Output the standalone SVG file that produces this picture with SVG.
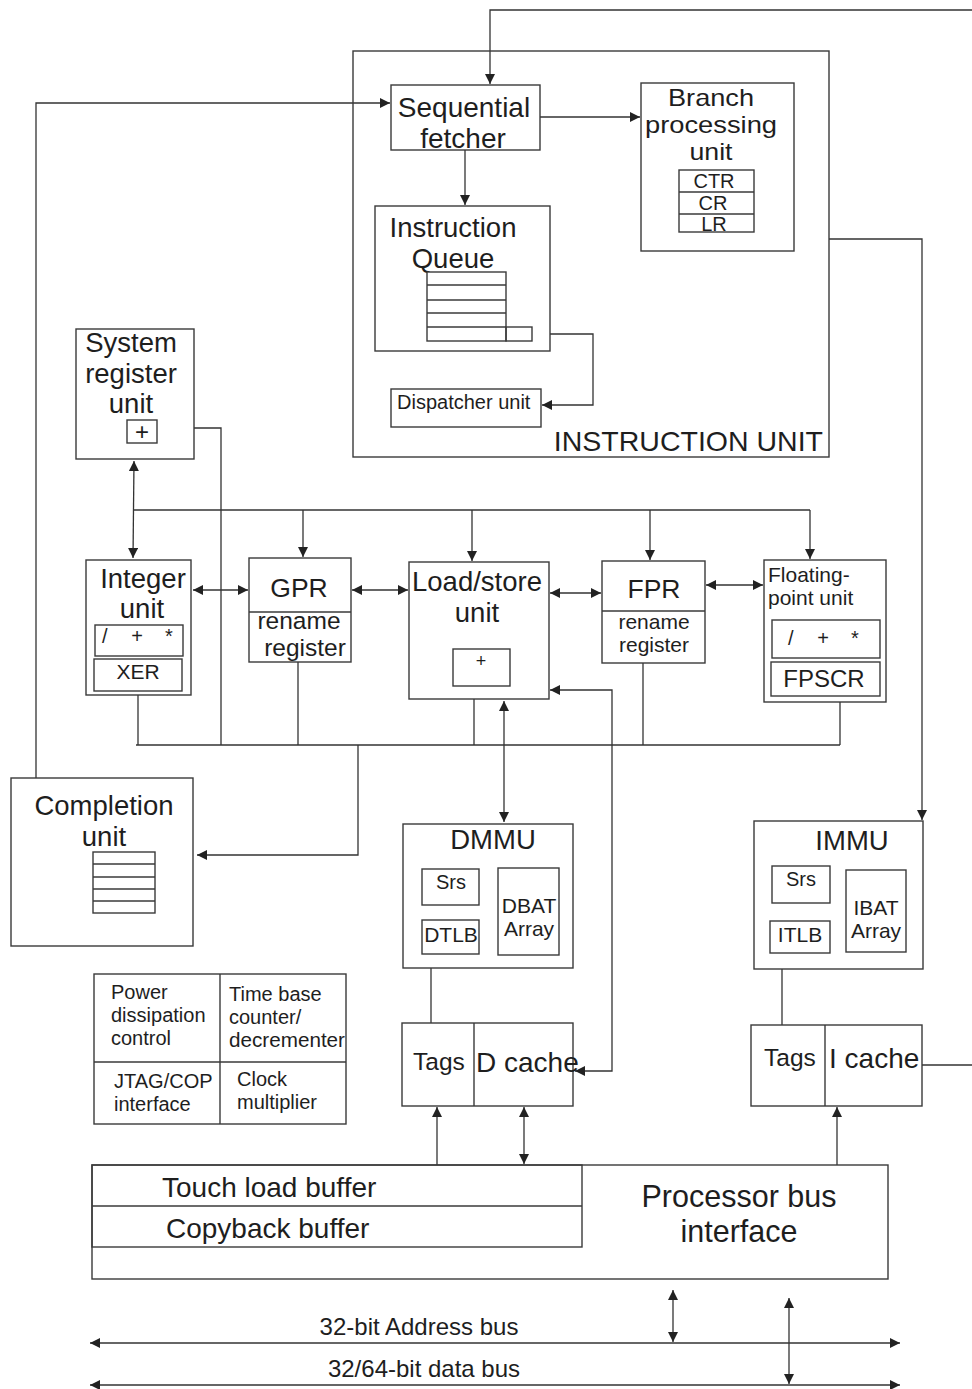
<svg xmlns="http://www.w3.org/2000/svg" width="972" height="1389" viewBox="0 0 972 1389">
  <style>
    .b { fill: none; stroke: #3a3a3a; stroke-width: 1.4; }
    .w { fill: #fff; stroke: #3a3a3a; stroke-width: 1.4; }
    .c { fill: none; stroke: #333; stroke-width: 1.3; }
    text { font-family: "Liberation Sans", Arial, sans-serif; fill: #1e1e1e; }
    .m { text-anchor: middle; }
    .t28 { font-size: 28px; }
    .t27 { font-size: 27.5px; }
    .t24 { font-size: 24.5px; }
    .t21 { font-size: 21px; }
    .t20 { font-size: 20px; }
  </style>
  <defs>
    <marker id="ah" viewBox="0 0 10 10" refX="10" refY="5" markerWidth="12" markerHeight="10" markerUnits="userSpaceOnUse" orient="auto-start-reverse">
      <path d="M0,0 L10,5 L0,10 z" fill="#222"/>
    </marker>
  </defs>

  <rect width="972" height="1389" fill="#fff"/>

  <!-- connectors -->
  <g id="connectors">
    <!-- external feed into the sequential fetcher -->
    <polyline class="c" points="972,10 490,10 490,84" marker-end="url(#ah)"/>
    <!-- completion unit back to fetcher -->
    <polyline class="c" points="36,778 36,103 390,103" marker-end="url(#ah)"/>
    <line class="c" x1="540" y1="117" x2="640" y2="117" marker-end="url(#ah)"/>
    <line class="c" x1="465" y1="150" x2="465" y2="205" marker-end="url(#ah)"/>
    <polyline class="c" points="532,334 593,334 593,405 542,405" marker-end="url(#ah)"/>
    <!-- instruction unit to IMMU -->
    <polyline class="c" points="829,239 922,239 922,820" marker-end="url(#ah)"/>

    <!-- dispatch bus -->
    <line class="c" x1="134" y1="461" x2="133" y2="558" marker-start="url(#ah)" marker-end="url(#ah)"/>
    <line class="c" x1="134" y1="510" x2="810" y2="510"/>
    <line class="c" x1="303" y1="510" x2="303" y2="557" marker-end="url(#ah)"/>
    <line class="c" x1="472" y1="510" x2="472" y2="561" marker-end="url(#ah)"/>
    <line class="c" x1="650" y1="510" x2="650" y2="560" marker-end="url(#ah)"/>
    <line class="c" x1="810" y1="510" x2="810" y2="559" marker-end="url(#ah)"/>

    <!-- unit to unit -->
    <line class="c" x1="193" y1="590" x2="248" y2="590" marker-start="url(#ah)" marker-end="url(#ah)"/>
    <line class="c" x1="352" y1="590" x2="408" y2="590" marker-start="url(#ah)" marker-end="url(#ah)"/>
    <line class="c" x1="550" y1="593" x2="601" y2="593" marker-start="url(#ah)" marker-end="url(#ah)"/>
    <line class="c" x1="706" y1="585" x2="763" y2="585" marker-start="url(#ah)" marker-end="url(#ah)"/>

    <!-- completion bus -->
    <polyline class="c" points="194,428 221,428 221,745"/>
    <line class="c" x1="136" y1="745" x2="840" y2="745"/>
    <line class="c" x1="138" y1="695" x2="138" y2="745"/>
    <line class="c" x1="298" y1="662" x2="298" y2="745"/>
    <line class="c" x1="474" y1="699" x2="474" y2="745"/>
    <line class="c" x1="643" y1="663" x2="643" y2="745"/>
    <line class="c" x1="840" y1="702" x2="840" y2="745"/>
    <polyline class="c" points="358,745 358,855 197,855" marker-end="url(#ah)"/>

    <!-- load/store to DMMU and D cache -->
    <line class="c" x1="504" y1="701" x2="504" y2="822" marker-start="url(#ah)" marker-end="url(#ah)"/>
    <polyline class="c" points="575,1071 612,1071 612,690 550,690" marker-start="url(#ah)" marker-end="url(#ah)"/>
    <line class="c" x1="431" y1="968" x2="431" y2="1023"/>
    <line class="c" x1="437" y1="1165" x2="437" y2="1107" marker-end="url(#ah)"/>
    <line class="c" x1="524" y1="1107" x2="524" y2="1164" marker-start="url(#ah)" marker-end="url(#ah)"/>

    <!-- IMMU and I cache -->
    <line class="c" x1="782" y1="969" x2="782" y2="1025"/>
    <line class="c" x1="922" y1="1065" x2="972" y2="1065"/>
    <line class="c" x1="837" y1="1165" x2="837" y2="1107" marker-end="url(#ah)"/>

    <!-- system buses -->
    <line class="c" x1="673" y1="1290" x2="673" y2="1342" marker-start="url(#ah)" marker-end="url(#ah)"/>
    <line class="c" x1="789" y1="1298" x2="789" y2="1384" marker-start="url(#ah)" marker-end="url(#ah)"/>
    <line class="c" x1="90" y1="1343" x2="900" y2="1343" marker-start="url(#ah)" marker-end="url(#ah)"/>
    <line class="c" x1="90" y1="1385" x2="900" y2="1385" marker-start="url(#ah)" marker-end="url(#ah)"/>
  </g>

  <!-- instruction unit -->
  <g id="instruction-unit">
    <rect class="b" x="353" y="51" width="476" height="406"/>
    <text x="823" y="451" text-anchor="end" font-size="28.5">INSTRUCTION UNIT</text>
  </g>

  <g id="sequential-fetcher">
    <rect class="w" x="391" y="85" width="149" height="65"/>
    <text class="t28 m" x="464" y="117">Sequential</text>
    <text class="t28 m" x="463" y="148">fetcher</text>
  </g>

  <g id="branch-unit">
    <rect class="w" x="641" y="83" width="153" height="168"/>
    <!-- tight line pitch: slightly wide glyphs at a smaller size -->
    <text class="m" x="711" y="106" font-size="24" textLength="86" lengthAdjust="spacingAndGlyphs">Branch</text>
    <text class="m" x="711" y="133" font-size="24" textLength="132" lengthAdjust="spacingAndGlyphs">processing</text>
    <text class="m" x="711" y="160" font-size="24" textLength="43" lengthAdjust="spacingAndGlyphs">unit</text>
    <rect class="b" x="679" y="170" width="75" height="62"/>
    <line class="b" x1="679" y1="192" x2="754" y2="192"/>
    <line class="b" x1="679" y1="214" x2="754" y2="214"/>
    <text class="t20 m" x="714" y="188">CTR</text>
    <text class="t20 m" x="713" y="210">CR</text>
    <text class="t20 m" x="714" y="231">LR</text>
  </g>

  <g id="instruction-queue">
    <rect class="w" x="375" y="206" width="175" height="145"/>
    <text class="t27 m" x="453" y="237">Instruction</text>
    <text class="t27 m" x="453" y="268">Queue</text>
    <rect class="w" x="427" y="272" width="79" height="69"/>
    <line class="b" x1="427" y1="285" x2="506" y2="285"/>
    <line class="b" x1="427" y1="300" x2="506" y2="300"/>
    <line class="b" x1="427" y1="313" x2="506" y2="313"/>
    <line class="b" x1="427" y1="327" x2="506" y2="327"/>
    <rect class="b" x="506" y="327" width="26" height="14"/>
  </g>

  <g id="dispatcher">
    <rect class="w" x="391" y="389" width="150" height="38"/>
    <text class="t20" x="397" y="409">Dispatcher unit</text>
  </g>

  <g id="system-register-unit">
    <rect class="w" x="76" y="329" width="118" height="130"/>
    <text class="t27 m" x="131" y="352">System</text>
    <text class="t27 m" x="131" y="383">register</text>
    <text class="t27 m" x="131" y="413">unit</text>
    <rect class="b" x="127" y="420" width="30" height="23"/>
    <text class="m" x="142" y="440" font-size="24">+</text>
  </g>

  <g id="integer-unit">
    <rect class="w" x="86" y="560" width="105" height="135"/>
    <text class="t27 m" x="143" y="588">Integer</text>
    <text class="t27 m" x="142" y="618">unit</text>
    <rect class="b" x="95" y="625" width="88" height="31"/>
    <text class="t20" x="102" y="643">/</text>
    <text class="t20 m" x="137" y="643">+</text>
    <text class="t20" x="165" y="643">*</text>
    <rect class="b" x="94" y="659" width="88" height="32"/>
    <text class="t21 m" x="138" y="679">XER</text>
  </g>

  <g id="gpr">
    <rect class="w" x="249" y="558" width="102" height="104"/>
    <line class="b" x1="249" y1="612" x2="351" y2="612"/>
    <text class="m" x="299" y="597" font-size="26.5">GPR</text>
    <text class="t24 m" x="299" y="629">rename</text>
    <text class="t24 m" x="305" y="656">register</text>
  </g>

  <g id="load-store-unit">
    <rect class="w" x="409" y="562" width="140" height="137"/>
    <text class="t27 m" x="477" y="591">Load/store</text>
    <text class="t27 m" x="477" y="622">unit</text>
    <rect class="b" x="453" y="649" width="57" height="37"/>
    <text class="m" x="481" y="667" font-size="18">+</text>
  </g>

  <g id="fpr">
    <rect class="w" x="602" y="561" width="103" height="102"/>
    <line class="b" x1="602" y1="611" x2="705" y2="611"/>
    <text class="m" x="654" y="598" font-size="26.5">FPR</text>
    <text class="t21 m" x="654" y="629">rename</text>
    <text class="t21 m" x="654" y="652">register</text>
  </g>

  <g id="floating-point-unit">
    <rect class="w" x="764" y="560" width="122" height="142"/>
    <text class="t21" x="768" y="582">Floating-</text>
    <text class="t21" x="768" y="605">point unit</text>
    <rect class="b" x="772" y="620" width="108" height="38"/>
    <text class="t20" x="788" y="645">/</text>
    <text class="t20 m" x="823" y="645">+</text>
    <text class="t20" x="851" y="645">*</text>
    <rect class="b" x="771" y="662" width="109" height="34"/>
    <text class="m" x="824" y="687" font-size="24">FPSCR</text>
  </g>

  <g id="completion-unit">
    <rect class="w" x="11" y="778" width="182" height="168"/>
    <text class="t27 m" x="104" y="815">Completion</text>
    <text class="t27 m" x="104" y="846">unit</text>
    <rect class="b" x="93" y="852" width="62" height="61"/>
    <line class="b" x1="93" y1="864" x2="155" y2="864"/>
    <line class="b" x1="93" y1="877" x2="155" y2="877"/>
    <line class="b" x1="93" y1="889" x2="155" y2="889"/>
    <line class="b" x1="93" y1="901" x2="155" y2="901"/>
  </g>

  <g id="dmmu">
    <rect class="w" x="403" y="824" width="170" height="144"/>
    <text class="t27 m" x="493" y="849">DMMU</text>
    <rect class="b" x="422" y="869" width="57" height="36"/>
    <text class="t20 m" x="451" y="889">Srs</text>
    <rect class="b" x="422" y="920" width="57" height="34"/>
    <text class="t21 m" x="451" y="942">DTLB</text>
    <rect class="b" x="498" y="868" width="61" height="87"/>
    <text class="t21 m" x="529" y="913">DBAT</text>
    <text class="t21 m" x="529" y="936">Array</text>
  </g>

  <g id="d-cache">
    <rect class="w" x="402" y="1023" width="171" height="83"/>
    <line class="b" x1="474" y1="1023" x2="474" y2="1106"/>
    <text class="t24 m" x="439" y="1070">Tags</text>
    <text class="t28" x="476" y="1072">D cache</text>
  </g>

  <g id="immu">
    <rect class="w" x="754" y="821" width="169" height="148"/>
    <text class="t27 m" x="852" y="850">IMMU</text>
    <rect class="b" x="772" y="866" width="58" height="37"/>
    <text class="t20 m" x="801" y="886">Srs</text>
    <rect class="b" x="770" y="921" width="60" height="32"/>
    <text class="t21 m" x="800" y="942">ITLB</text>
    <rect class="b" x="846" y="870" width="60" height="82"/>
    <text class="t21 m" x="876" y="915">IBAT</text>
    <text class="t21 m" x="876" y="938">Array</text>
  </g>

  <g id="i-cache">
    <rect class="w" x="751" y="1025" width="171" height="81"/>
    <line class="b" x1="825" y1="1025" x2="825" y2="1106"/>
    <text class="t24 m" x="790" y="1066">Tags</text>
    <text class="t28" x="829" y="1068">I cache</text>
  </g>

  <g id="misc-blocks">
    <rect class="w" x="94" y="974" width="252" height="150"/>
    <line class="b" x1="220" y1="974" x2="220" y2="1124"/>
    <line class="b" x1="94" y1="1062" x2="346" y2="1062"/>
    <text class="t20" x="111" y="999">Power</text>
    <text class="t20" x="111" y="1022">dissipation</text>
    <text class="t20" x="111" y="1045">control</text>
    <text class="t20" x="229" y="1001">Time base</text>
    <text class="t20" x="229" y="1024">counter/</text>
    <text class="t20" x="229" y="1047" textLength="116" lengthAdjust="spacingAndGlyphs">decrementer</text>
    <text class="t20" x="114" y="1088">JTAG/COP</text>
    <text class="t20" x="114" y="1111">interface</text>
    <text class="t20" x="237" y="1086">Clock</text>
    <text class="t20" x="237" y="1109">multiplier</text>
  </g>

  <g id="bus-interface">
    <rect class="w" x="92" y="1165" width="796" height="114"/>
    <rect class="b" x="92" y="1165" width="490" height="82"/>
    <line class="b" x1="92" y1="1206" x2="582" y2="1206"/>
    <text class="t28" x="162" y="1197">Touch load buffer</text>
    <text class="t28" x="166" y="1238">Copyback buffer</text>
    <text class="m" x="739" y="1207" font-size="30.5">Processor bus</text>
    <text class="m" x="739" y="1242" font-size="30.5">interface</text>
  </g>

  <g id="bus-labels">
    <text class="m" x="419" y="1335" font-size="24">32-bit Address bus</text>
    <text class="m" x="424" y="1377" font-size="24">32/64-bit data bus</text>
  </g>
</svg>
